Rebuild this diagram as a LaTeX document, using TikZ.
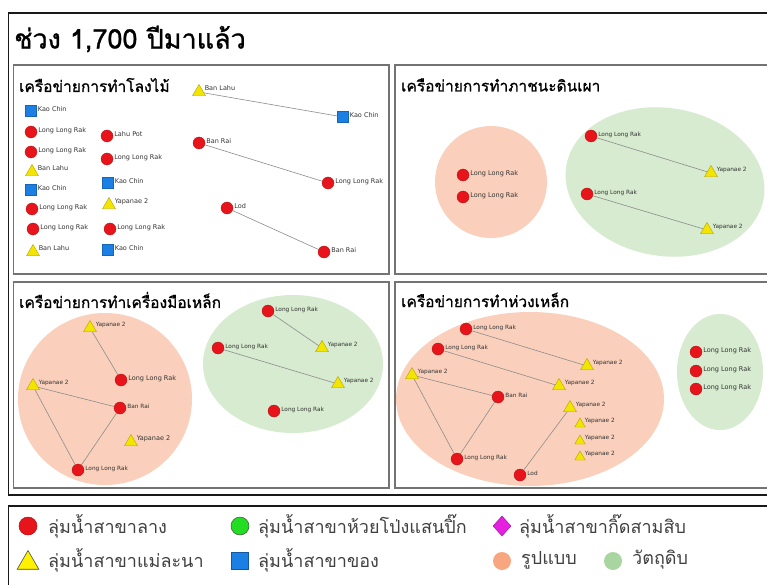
\documentclass[tikz,border=0pt]{standalone}
\usepackage{fontspec}
\setmainfont{DejaVu Sans}
\newfontfamily\thai[Script=Thai]{Loma}
\newfontfamily\thaih[Script=Thai,FakeBold=1]{Loma}
\newfontfamily\lblf{DejaVu Sans}
\usetikzlibrary{shapes.geometric}
\definecolor{nred}{HTML}{E8141B}
\definecolor{nredd}{HTML}{B01010}
\definecolor{nyel}{HTML}{F2E600}
\definecolor{nyeld}{HTML}{B8A000}
\definecolor{nblue}{HTML}{1C7FE3}
\definecolor{ngreen}{HTML}{22DD22}
\definecolor{nmag}{HTML}{E620E0}
\definecolor{gorange}{HTML}{FAD0BC}
\definecolor{ggreen}{HTML}{D6EBCF}
\definecolor{lorange}{HTML}{F8A67F}
\definecolor{lgreen}{HTML}{A9D6A0}
\tikzset{
 rc/.style={circle,fill=nred,draw=nredd,line width=0.3pt,minimum size=12pt,inner sep=0pt},
 yt/.style={regular polygon,regular polygon sides=3,fill=nyel,draw=nyeld,line width=0.4pt,minimum size=15pt,inner sep=0pt},
 syt/.style={yt,minimum size=12pt},
 bs/.style={rectangle,fill=nblue,draw=nblue!80!black,line width=0.3pt,minimum size=11pt,inner sep=0pt},
 lbl/.style={font=\lblf\fontsize{6.5}{7}\selectfont,text=black!80,inner sep=1pt,yshift=1.5pt},
 slbl/.style={lbl,font=\lblf\fontsize{5.8}{6}\selectfont},
 L/.style={label={[lbl]0:#1}},
 SL/.style={label={[slbl]0:#1}},
 LT/.style={label={[lbl,yshift=2pt]0:#1}},
 SLT/.style={label={[slbl,yshift=2pt]0:#1}},
 edge/.style={draw=black!45,line width=0.6pt},
 panel/.style={draw=black!55,line width=1.4pt},
 frame/.style={draw=black!90,line width=1.8pt},
 grp/.style={ellipse,draw=none,inner sep=0pt},
 ptitle/.style={anchor=west,font=\thaih\fontsize{15.5}{18}\selectfont,inner sep=0pt},
 legt/.style={anchor=west,font=\thai\fontsize{18}{21}\selectfont,text=black!75,inner sep=0pt},
}
\begin{document}
\begin{tikzpicture}[x=1pt,y=-1pt]
\useasboundingbox (0,0) rectangle (767,585);
\fill[white] (0,0) rectangle (767,585);
% frames
\draw[frame] (772,13) -- (8.5,13) -- (8.5,495) -- (772,495);
\draw[frame] (772,506) -- (8.5,506) -- (8.5,590);
\draw[panel] (13.5,65) rectangle (389,274);
\draw[panel] (395,65) rectangle (775,274);
\draw[panel] (13.5,282) rectangle (389,488);
\draw[panel] (395,282) rectangle (775,488);
\node[anchor=west,font=\thaih\fontsize{27}{31}\selectfont,inner sep=0pt] (title) at (14,39) {ช่วง 1,700 ปีมาแล้ว};
\node[ptitle] (t1) at (19,85) {เครือข่ายการทำโลงไม้};
\node[ptitle] (t2) at (401,85) {เครือข่ายการทำภาชนะดินเผา};
\node[ptitle] (t3) at (19,300) {เครือข่ายการทำเครื่องมือเหล็ก};
\node[ptitle] (t4) at (401,300) {เครือข่ายการทำห่วงเหล็ก};
% groups
\node[grp,fill=gorange,minimum width=112pt,minimum height=112pt] (o2) at (491,182) {};
\node[grp,fill=ggreen,minimum width=200pt,minimum height=148pt,rotate=-9] (g2) at (665,182) {};
\node[grp,fill=gorange,minimum width=174pt,minimum height=172pt] (o3) at (105,399) {};
\node[grp,fill=ggreen,minimum width=180pt,minimum height=138pt] (g3) at (293,364) {};
\node[grp,fill=gorange,minimum width=268pt,minimum height=174pt] (o4) at (530,399) {};
\node[grp,fill=ggreen,minimum width=86pt,minimum height=116pt] (g4) at (720,372) {};
% panel 1
\node[bs,L=Kao Chin] (a1) at (31,111) {};
\node[rc,L=Long Long Rak] (a2) at (31,132) {};
\node[rc,L=Long Long Rak] (a3) at (31,152) {};
\node[yt,LT=Ban Lahu] (a4) at (32,172) {};
\node[bs,L=Kao Chin] (a5) at (31,190) {};
\node[rc,L=Long Long Rak] (a6) at (32,209) {};
\node[rc,L=Long Long Rak] (a7) at (33,229) {};
\node[yt,LT=Ban Lahu] (a8) at (33,252) {};
\node[rc,L=Lahu Pot] (b1) at (107,136) {};
\node[rc,L=Long Long Rak] (b2) at (107,159) {};
\node[bs,L=Kao Chin] (b3) at (108,183) {};
\node[yt,LT=Yapanae 2] (b4) at (109,205) {};
\node[rc,L=Long Long Rak] (b5) at (110,229) {};
\node[bs,L=Kao Chin] (b6) at (108,250) {};
\node[yt,LT=Ban Lahu] (c1) at (199,92) {};
\node[bs,L=Kao Chin] (c2) at (343,117) {};
\node[rc,L=Ban Rai] (c3) at (199,143) {};
\node[rc,L=Long Long Rak] (c4) at (328,183) {};
\node[rc,L=Lod] (c5) at (227,208) {};
\node[rc,L=Ban Rai] (c6) at (324,252) {};
\draw[edge] (c1) -- (c2);
\draw[edge] (c3) -- (c4);
\draw[edge] (c5) -- (c6);
% panel 2
\node[rc,L=Long Long Rak] (d1) at (463,175) {};
\node[rc,L=Long Long Rak] (d2) at (463,197) {};
\node[rc,SL=Long Long Rak] (d3) at (591,136) {};
\node[yt,SLT=Yapanae 2] (d4) at (711,173) {};
\node[rc,SL=Long Long Rak] (d5) at (587,194) {};
\node[yt,SLT=Yapanae 2] (d6) at (707,230) {};
\draw[edge] (d3) -- (d4);
\draw[edge] (d5) -- (d6);
% panel 3
\node[yt,SLT=Yapanae 2] (e1) at (90,328) {};
\node[rc,L=Long Long Rak] (e2) at (121,380) {};
\node[yt,SLT=Yapanae 2] (e3) at (33,386) {};
\node[rc,SL=Ban Rai] (e4) at (120,408) {};
\node[yt,LT=Yapanae 2] (e5) at (131,442) {};
\node[rc,SL=Long Long Rak] (e6) at (78,470) {};
\draw[edge] (e1) -- (e2);
\draw[edge] (e3) -- (e4);
\draw[edge] (e3) -- (e6);
\draw[edge] (e4) -- (e6);
\node[rc,SL=Long Long Rak] (f1) at (268,311) {};
\node[yt,SLT=Yapanae 2] (f2) at (322,348) {};
\node[rc,SL=Long Long Rak] (f3) at (218,348) {};
\node[yt,SLT=Yapanae 2] (f4) at (338,384) {};
\node[rc,SL=Long Long Rak] (f5) at (274,411) {};
\draw[edge] (f1) -- (f2);
\draw[edge] (f3) -- (f4);
% panel 4
\node[rc,SL=Long Long Rak] (p1) at (466,329) {};
\node[rc,SL=Long Long Rak] (p2) at (438,349) {};
\node[yt,SLT=Yapanae 2] (p3) at (412,375) {};
\node[yt,SLT=Yapanae 2] (p4) at (587,366) {};
\node[yt,SLT=Yapanae 2] (p5) at (559,386) {};
\node[rc,SL=Ban Rai] (p6) at (498,397) {};
\node[yt,SLT=Yapanae 2] (p7) at (570,408) {};
\node[syt,SLT=Yapanae 2] (p8) at (580,424) {};
\node[syt,SLT=Yapanae 2] (p9) at (580,441) {};
\node[syt,SLT=Yapanae 2] (p10) at (580,457) {};
\node[rc,SL=Long Long Rak] (p11) at (457,459) {};
\node[rc,SL=Lod] (p12) at (520,475) {};
\draw[edge] (p1) -- (p4);
\draw[edge] (p2) -- (p5);
\draw[edge] (p3) -- (p6);
\draw[edge] (p3) -- (p11);
\draw[edge] (p6) -- (p11);
\draw[edge] (p12) -- (p7);
\node[rc,L=Long Long Rak] (q1) at (696,352) {};
\node[rc,L=Long Long Rak] (q2) at (696,371) {};
\node[rc,L=Long Long Rak] (q3) at (696,389) {};
% legend
\node[circle,fill=nred,draw=nredd,line width=0.5pt,minimum size=18pt,inner sep=0pt] (k1) at (28,526) {};
\node[legt] (k1t) at (48,526) {ลุ่มน้ำสาขาลาง};
\node[circle,fill=ngreen,draw=black!70,line width=0.5pt,minimum size=18pt,inner sep=0pt] (k2) at (240,526) {};
\node[legt] (k2t) at (258,526) {ลุ่มน้ำสาขาห้วยโป่งแสนปิ๊ก};
\node[diamond,fill=nmag,draw=nmag!70!black,line width=0.5pt,minimum width=18pt,minimum height=20pt,inner sep=0pt] (k3) at (502,526) {};
\node[legt] (k3t) at (519,526) {ลุ่มน้ำสาขากิ๊ดสามสิบ};
\node[regular polygon,regular polygon sides=3,fill=yellow,draw=black!70,line width=0.6pt,minimum size=25pt,inner sep=0pt] (k4) at (28,563) {};
\node[legt] (k4t) at (48,560) {ลุ่มน้ำสาขาแม่ละนา};
\node[rectangle,fill=nblue,draw=nblue!70!black,line width=0.4pt,minimum size=17pt,inner sep=0pt] (k5) at (240,561) {};
\node[legt] (k5t) at (258,560) {ลุ่มน้ำสาขาของ};
\node[circle,fill=lorange,minimum size=18pt,inner sep=0pt] (k6) at (502,561) {};
\node[legt] (k6t) at (521,560) {รูปแบบ};
\node[circle,fill=lgreen,minimum size=18pt,inner sep=0pt] (k7) at (613,561) {};
\node[legt] (k7t) at (632,560) {วัตถุดิบ};
\end{tikzpicture}
\end{document}
